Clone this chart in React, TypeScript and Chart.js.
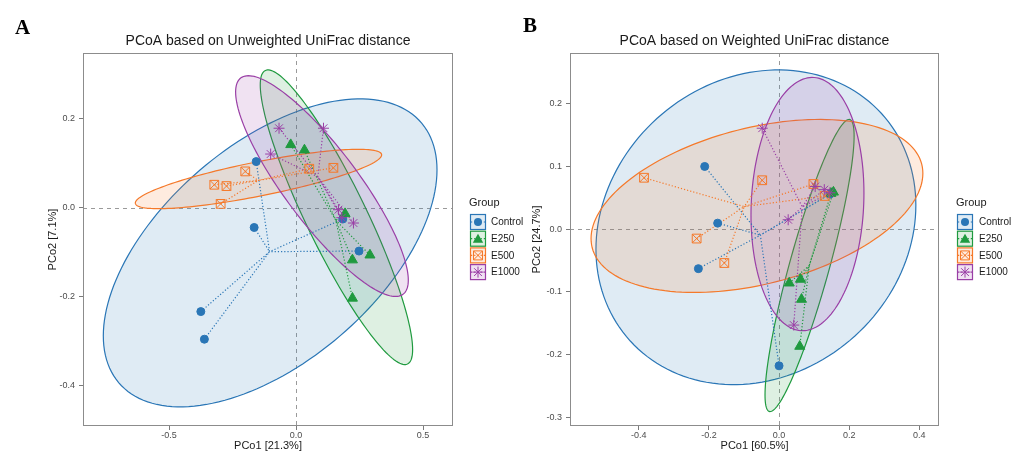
import React, { useEffect, useRef } from "react";
import { Chart, registerables } from "chart.js";
Chart.register(...registerables);

type P = [number, number];
type Ell = { cx: number; cy: number; sx: number; sy: number; r: number };

const groups = ["Control", "E250", "E500", "E1000"];
const colors = ["#2a76b6", "#1f9a3f", "#f5792a", "#9a3fa6"];

// ---- Panel A (Unweighted UniFrac) ----
const controlA: P[] = [[-0.157, 0.104], [-0.165, -0.044], [-0.375, -0.233], [-0.361, -0.295], [0.248, -0.097], [0.184, -0.025]];
const e250A: P[] = [[-0.021, 0.142], [0.033, 0.130], [0.193, -0.013], [0.222, -0.117], [0.291, -0.106], [0.222, -0.203]];
const e500A: P[] = [[-0.322, 0.052], [-0.274, 0.049], [-0.2, 0.082], [-0.297, 0.009], [0.052, 0.088], [0.147, 0.090]];
const e1000A: P[] = [[-0.067, 0.179], [0.108, 0.179], [-0.1, 0.121], [0.167, -0.004], [0.226, -0.034], [0.180, -0.022]];
const ellipsesA: Ell[] = [
  { cx: -0.102, cy: -0.101, sx: 0.657, sy: 0.346, r: 0.539 },
  { cx: 0.159, cy: -0.021, sx: 0.300, sy: 0.331, r: -0.898 },
  { cx: -0.148, cy: 0.065, sx: 0.485, sy: 0.0667, r: 0.81 },
  { cx: 0.102, cy: 0.049, sx: 0.340, sy: 0.248, r: -0.852 },
];
const xTicksA = [-0.5, 0, 0.5];
const yTicksA = [-0.4, -0.2, 0, 0.2];
const xLimA: P = [-0.839, 0.618];
const yLimA: P = [-0.49, 0.348];

// ---- Panel B (Weighted UniFrac) ----
const controlB: P[] = [[-0.212, 0.100], [-0.175, 0.0096], [-0.230, -0.063], [0.0, -0.218], [0.145, 0.056], [0.152, 0.058]];
const e250B: P[] = [[0.029, -0.086], [0.061, -0.080], [0.064, -0.112], [0.059, -0.187], [0.148, 0.057], [0.155, 0.059]];
const e500B: P[] = [[-0.385, 0.082], [-0.048, 0.078], [-0.235, -0.015], [-0.156, -0.054], [0.098, 0.072], [0.13, 0.053]];
const e1000B: P[] = [[-0.048, 0.161], [0.026, 0.015], [0.103, 0.068], [0.129, 0.063], [0.042, -0.153], [0.145, 0.058]];
const ellipsesB: Ell[] = [
  { cx: -0.066, cy: 0.003, sx: 0.456, sy: 0.251, r: 0.14 },
  { cx: 0.087, cy: -0.058, sx: 0.127, sy: 0.233, r: 0.886 },
  { cx: -0.063, cy: 0.037, sx: 0.473, sy: 0.138, r: 0.377 },
  { cx: 0.081, cy: 0.040, sx: 0.161, sy: 0.202, r: 0.087 },
];
const xTicksB = [-0.4, -0.2, 0, 0.2, 0.4];
const yTicksB = [-0.3, -0.2, -0.1, 0, 0.1, 0.2];
const xLimB: P = [-0.596, 0.456];
const yLimB: P = [-0.314, 0.281];

const FONT = "'Liberation Sans', Arial, Helvetica, sans-serif";
Chart.defaults.font.family = FONT;

function rgba(hex: string, a: number) {
  const n = parseInt(hex.slice(1), 16);
  return `rgba(${(n >> 16) & 255},${(n >> 8) & 255},${n & 255},${a})`;
}
const mean = (a: number[]) => a.reduce((s, v) => s + v, 0) / a.length;

function spider(pts: P[]) {
  const cx = mean(pts.map((p) => p[0]));
  const cy = mean(pts.map((p) => p[1]));
  const out: any[] = [];
  pts.forEach((p) => {
    out.push({ x: p[0], y: p[1] }, { x: cx, y: cy }, { x: cx, y: null });
  });
  return out;
}

function drawSymbol(ctx: CanvasRenderingContext2D, g: number, x: number, y: number) {
  const c = colors[g];
  ctx.save();
  ctx.strokeStyle = c;
  ctx.fillStyle = c;
  ctx.lineWidth = 1;
  ctx.setLineDash([]);
  ctx.beginPath();
  if (g === 0) {
    ctx.arc(x, y, 4, 0, Math.PI * 2);
    ctx.fill();
  } else if (g === 1) {
    const s = 6;
    ctx.moveTo(x, y - s);
    ctx.lineTo(x + s * 0.866, y + s * 0.5);
    ctx.lineTo(x - s * 0.866, y + s * 0.5);
    ctx.closePath();
    ctx.fill();
  } else if (g === 2) {
    const h = 4.5;
    ctx.rect(x - h, y - h, 2 * h, 2 * h);
    ctx.moveTo(x - h, y - h); ctx.lineTo(x + h, y + h);
    ctx.moveTo(x + h, y - h); ctx.lineTo(x - h, y + h);
    ctx.stroke();
  } else {
    const s = 5.5;
    for (let i = 0; i < 4; i++) {
      const a = (i * Math.PI) / 4;
      ctx.moveTo(x - Math.cos(a) * s, y - Math.sin(a) * s);
      ctx.lineTo(x + Math.cos(a) * s, y + Math.sin(a) * s);
    }
    ctx.stroke();
  }
  ctx.restore();
}

type Spec = {
  title: string; xTitle: string; yTitle: string;
  data: P[][]; ellipses: Ell[];
  xTicks: number[]; yTicks: number[]; xLim: P; yLim: P;
  width: number; padLeft: number; padRight: number; yAxisW: number;
  legendX: number; keyX: number; labelX: number;
};

const specA: Spec = {
  title: "PCoA based on Unweighted UniFrac distance",
  xTitle: "PCo1 [21.3%]", yTitle: "PCo2 [7.1%]",
  data: [controlA, e250A, e500A, e1000A], ellipses: ellipsesA,
  xTicks: xTicksA, yTicks: yTicksA, xLim: xLimA, yLim: yLimA,
  width: 540, padLeft: 46, padRight: 87, yAxisW: 37,
  legendX: 469, keyX: 470, labelX: 491,
};
const specB: Spec = {
  title: "PCoA based on Weighted UniFrac distance",
  xTitle: "PCo1 [60.5%]", yTitle: "PCo2 [24.7%]",
  data: [controlB, e250B, e500B, e1000B], ellipses: ellipsesB,
  xTicks: xTicksB, yTicks: yTicksB, xLim: xLimB, yLim: yLimB,
  width: 500, padLeft: 15, padRight: 76, yAxisW: 40,
  legendX: 441, keyX: 442, labelX: 464,
};

function buildConfig(spec: Spec): any {
  const datasets: any[] = [];
  const styles = [
    [{ ps: "circle", r: 4, fill: true }],
    [{ ps: "triangle", r: 5.8, fill: true }],
    [{ ps: "rect", r: 6.2, fill: false }, { ps: "crossRot", r: 6.2, fill: false }],
    [{ ps: "star", r: 5.5, fill: false }],
  ];
  spec.data.forEach((pts, g) => {
    styles[g].forEach((st) => {
      datasets.push({
        type: "scatter",
        label: groups[g],
        data: pts.map((p) => ({ x: p[0], y: p[1] })),
        pointStyle: st.ps,
        pointRadius: st.r,
        pointBorderWidth: 1,
        pointBorderColor: colors[g],
        pointBackgroundColor: st.fill ? colors[g] : "rgba(0,0,0,0)",
        order: 10 - g,
      });
    });
    datasets.push({
      type: "line",
      label: groups[g] + " spider",
      data: spider(pts),
      borderColor: colors[g],
      borderWidth: 1.2,
      borderDash: [1.2, 2],
      pointRadius: 0,
      fill: false,
      spanGaps: false,
      tension: 0,
      order: 30 - g,
    });
  });

  const deco = {
    id: "deco",
    beforeDatasetsDraw(chart: any) {
      const { ctx, chartArea: a, scales } = chart;
      const xs = scales.x, ys = scales.y;
      ctx.save();
      ctx.beginPath();
      ctx.rect(a.left, a.top, a.right - a.left, a.bottom - a.top);
      ctx.clip();
      ctx.strokeStyle = "#9a9a9a";
      ctx.lineWidth = 1;
      ctx.setLineDash([4, 4]);
      ctx.beginPath();
      const x0 = Math.round(xs.getPixelForValue(0)) + 0.5;
      const y0 = Math.round(ys.getPixelForValue(0)) + 0.5;
      ctx.moveTo(x0, a.top); ctx.lineTo(x0, a.bottom);
      ctx.moveTo(a.left, y0); ctx.lineTo(a.right, y0);
      ctx.stroke();
      ctx.setLineDash([]);
      spec.ellipses.forEach((e, g) => {
        const k = Math.sqrt(1 - e.r * e.r);
        ctx.beginPath();
        const n = 160;
        for (let i = 0; i <= n; i++) {
          const t = (i / n) * Math.PI * 2;
          const vx = e.cx + e.sx * Math.cos(t);
          const vy = e.cy + e.sy * (e.r * Math.cos(t) + k * Math.sin(t));
          const px = xs.getPixelForValue(vx), py = ys.getPixelForValue(vy);
          if (i === 0) ctx.moveTo(px, py); else ctx.lineTo(px, py);
        }
        ctx.closePath();
        ctx.fillStyle = rgba(colors[g], 0.15);
        ctx.fill();
        ctx.strokeStyle = colors[g];
        ctx.lineWidth = 1.2;
        ctx.stroke();
      });
      ctx.restore();
    },
    afterDraw(chart: any) {
      const { ctx, chartArea: a } = chart;
      ctx.save();
      ctx.strokeStyle = "#8c8c8c";
      ctx.lineWidth = 1;
      ctx.setLineDash([]);
      ctx.strokeRect(Math.round(a.left) + 0.5, Math.round(a.top) + 0.5, Math.round(a.right - a.left) - 1, Math.round(a.bottom - a.top) - 1);
      ctx.fillStyle = "#1a1a1a";
      ctx.font = `11px ${FONT}`;
      ctx.textAlign = "left";
      ctx.textBaseline = "middle";
      ctx.fillText("Group", spec.legendX, 203);
      groups.forEach((name, g) => {
        const cy = 222 + g * 16.7;
        const bx = spec.keyX, by = cy - 8;
        ctx.fillStyle = "#ffffff";
        ctx.fillRect(bx, by, 16, 16);
        ctx.fillStyle = rgba(colors[g], 0.15);
        ctx.fillRect(bx, by, 16, 16);
        ctx.strokeStyle = colors[g];
        ctx.lineWidth = 1.2;
        ctx.strokeRect(bx + 0.5, by + 0.5, 15, 15);
        ctx.beginPath();
        ctx.setLineDash([1.2, 2]);
        ctx.moveTo(bx + 1, cy); ctx.lineTo(bx + 15, cy);
        ctx.stroke();
        ctx.setLineDash([]);
        drawSymbol(ctx, g, bx + 8, cy + (g === 1 ? 1 : 0));
        ctx.fillStyle = "#1a1a1a";
        ctx.font = `10px ${FONT}`;
        ctx.fillText(name, spec.labelX, cy + 0.5);
      });
      ctx.restore();
    },
  };

  const axisCommon = (ticks: number[], lim: P, title: string) => ({
    type: "linear",
    min: lim[0],
    max: lim[1],
    afterBuildTicks: (s: any) => { s.ticks = ticks.map((v) => ({ value: v })); },
    ticks: {
      callback: (v: number) => Number(v).toFixed(1),
      font: { size: 9 },
      color: "#4d4d4d",
      autoSkip: false,
      maxRotation: 0,
    },
    grid: { drawOnChartArea: false, drawTicks: true, tickLength: 4, color: "#7a7a7a", lineWidth: 1 },
    border: { display: false },
    title: { display: true, text: title, font: { size: 11 }, color: "#1a1a1a", padding: { top: 0, bottom: 0 } },
  });

  const xAxis: any = axisCommon(spec.xTicks, spec.xLim, spec.xTitle);
  xAxis.position = "bottom";
  xAxis.ticks.padding = 0;
  xAxis.afterFit = (s: any) => { s.height = 27; };
  const yAxis: any = axisCommon(spec.yTicks, spec.yLim, spec.yTitle);
  yAxis.position = "left";
  yAxis.ticks.padding = 4;
  yAxis.afterFit = (s: any) => { s.width = spec.yAxisW; };

  return {
    type: "scatter",
    data: { datasets },
    options: {
      animation: false,
      responsive: false,
      devicePixelRatio: 1,
      events: [],
      layout: { padding: { left: spec.padLeft, right: spec.padRight, top: 0, bottom: 0 } },
      plugins: {
        legend: { display: false },
        tooltip: { enabled: false },
        title: {
          display: true,
          text: spec.title,
          fullSize: false,
          color: "#1a1a1a",
          font: { size: 14, weight: "normal" },
          padding: { top: 32.6, bottom: 3.6 },
        },
      },
      scales: { x: xAxis, y: yAxis },
    },
    plugins: [deco],
  };
}

function Panel({ spec, left }: { spec: Spec; left: number }) {
  const ref = useRef<HTMLCanvasElement>(null);
  useEffect(() => {
    const chart = new Chart(ref.current as HTMLCanvasElement, buildConfig(spec));
    return () => chart.destroy();
  }, [spec]);
  return (
    <div style={{ position: "absolute", left, top: 0, width: spec.width, height: 453 }}>
      <canvas ref={ref} width={spec.width} height={453} style={{ display: "block" }} />
    </div>
  );
}

const letterStyle: React.CSSProperties = {
  position: "absolute",
  fontFamily: "'Liberation Serif', 'Times New Roman', serif",
  fontWeight: "bold",
  fontSize: 21,
  lineHeight: "21px",
  color: "#000",
};

export default function App() {
  return (
    <div style={{ position: "fixed", left: 0, top: 0, width: 1015, height: 453, background: "#fff", overflow: "hidden" }}>
      <Panel spec={specA} left={0} />
      <Panel spec={specB} left={515} />
      <div style={{ ...letterStyle, left: 15, top: 17 }}>A</div>
      <div style={{ ...letterStyle, left: 523, top: 15 }}>B</div>
    </div>
  );
}
